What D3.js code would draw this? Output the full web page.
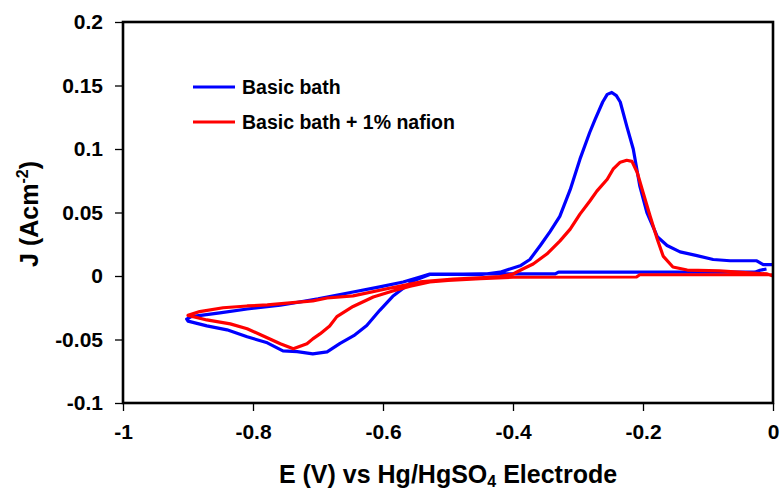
<!DOCTYPE html>
<html>
<head>
<meta charset="utf-8">
<script src="https://cdn.jsdelivr.net/npm/d3@7"></script>
<style>
  body { margin: 0; background: #fff; }
  text { font-family: "Liberation Sans", Arial, sans-serif; font-weight: bold; fill: #000; }
</style>
</head>
<body>
<svg width="781" height="494"></svg>
<script>
// Cyclic voltammograms, E (V) vs J (A/cm2)
var basicBath = [
  [-0.010, 0.0055], [-0.020, 0.0045], [-0.028, 0.0030], [-0.150, 0.0030], [-0.330, 0.0030],
  [-0.335, 0.0016], [-0.450, 0.0016], [-0.528, 0.0012],
  [-0.554, -0.0040], [-0.585, -0.0160], [-0.605, -0.0270], [-0.625, -0.0390],
  [-0.645, -0.0470], [-0.666, -0.0530],
  [-0.686, -0.0597], [-0.708, -0.0613], [-0.732, -0.0595], [-0.754, -0.0589],
  [-0.778, -0.0526], [-0.809, -0.0479], [-0.840, -0.0424], [-0.871, -0.0393],
  [-0.900, -0.0355], [-0.902, -0.0340], [-0.895, -0.0320],
  [-0.851, -0.0290], [-0.809, -0.0260], [-0.758, -0.0230], [-0.700, -0.0180],
  [-0.646, -0.0126], [-0.605, -0.0086], [-0.569, -0.0047], [-0.543, -0.0008],
  [-0.528, 0.0015], [-0.451, 0.0010],
  [-0.420, 0.0030], [-0.389, 0.0080], [-0.374, 0.0130], [-0.358, 0.0240],
  [-0.343, 0.0350], [-0.328, 0.0470], [-0.312, 0.0680], [-0.297, 0.0920],
  [-0.282, 0.1130], [-0.274, 0.1230], [-0.262, 0.1370], [-0.255, 0.1430], [-0.248, 0.1445],
  [-0.241, 0.1420], [-0.235, 0.1370], [-0.225, 0.1180], [-0.215, 0.1000], [-0.205, 0.0710],
  [-0.194, 0.0500], [-0.178, 0.0310], [-0.163, 0.0240], [-0.143, 0.0190],
  [-0.117, 0.0160], [-0.092, 0.0130], [-0.066, 0.0120], [-0.025, 0.0120],
  [-0.015, 0.0090], [0.000, 0.0090]
];

var nafionBath = [
  [0.000, 0.0010], [-0.100, 0.0010], [-0.205, 0.0010], [-0.210, -0.0008],
  [-0.400, -0.0010], [-0.450, -0.0020], [-0.500, -0.0035], [-0.528, -0.0047],
  [-0.558, -0.0080], [-0.585, -0.0118], [-0.615, -0.0165], [-0.646, -0.0240],
  [-0.671, -0.0320], [-0.682, -0.0393], [-0.697, -0.0456], [-0.708, -0.0495],
  [-0.717, -0.0534], [-0.738, -0.0573], [-0.758, -0.0534], [-0.785, -0.0470],
  [-0.809, -0.0416], [-0.835, -0.0377], [-0.871, -0.0346], [-0.900, -0.0310],
  [-0.882, -0.0280], [-0.846, -0.0250], [-0.809, -0.0236], [-0.778, -0.0228],
  [-0.743, -0.0212], [-0.708, -0.0196], [-0.686, -0.0173], [-0.646, -0.0157],
  [-0.594, -0.0100], [-0.543, -0.0047], [-0.492, -0.0025], [-0.451, -0.0015],
  [-0.420, -0.0005], [-0.400, 0.0016], [-0.385, 0.0055], [-0.369, 0.0094],
  [-0.348, 0.0173], [-0.328, 0.0275], [-0.312, 0.0369], [-0.297, 0.0487],
  [-0.282, 0.0589], [-0.271, 0.0668], [-0.255, 0.0762], [-0.246, 0.0841],
  [-0.235, 0.0896], [-0.225, 0.0911], [-0.217, 0.0903], [-0.209, 0.0817],
  [-0.200, 0.0660], [-0.189, 0.0470], [-0.178, 0.0290], [-0.169, 0.0157],
  [-0.154, 0.0071], [-0.132, 0.0047], [-0.082, 0.0040], [-0.009, 0.0016],
  [0.000, 0.0000]
];

var seriesNames = ["Basic bath", "Basic bath + 1% nafion"];
var seriesColors = ["#0000ff", "#ff0000"];

var xTicks = [-1, -0.8, -0.6, -0.4, -0.2, 0];
var xTickLabels = ["-1", "-0.8", "-0.6", "-0.4", "-0.2", "0"];
var yTicks = [0.2, 0.15, 0.1, 0.05, 0, -0.05, -0.1];
var yTickLabels = ["0.2", "0.15", "0.1", "0.05", "0", "-0.05", "-0.1"];

var svg = d3.select("svg");
var plot = {left: 123, top: 22, right: 773, bottom: 403};

var x = d3.scaleLinear().domain([-1, 0]).range([plot.left, plot.right]);
var y = d3.scaleLinear().domain([-0.1, 0.2]).range([plot.bottom, plot.top]);

// Ticks
var xAxis = svg.append("g")
  .attr("transform", "translate(0," + plot.bottom + ")")
  .call(d3.axisBottom(x).tickValues(xTicks).tickSize(8).tickPadding(13)
    .tickFormat(function(d, i) { return xTickLabels[i]; }));
var yAxis = svg.append("g")
  .attr("transform", "translate(" + plot.left + ",0)")
  .call(d3.axisLeft(y).tickValues(yTicks).tickSize(8).tickPadding(12)
    .tickFormat(function(d, i) { return yTickLabels[i]; }));

[xAxis, yAxis].forEach(function(ax) {
  ax.select(".domain").remove();
  ax.selectAll(".tick line").attr("stroke", "#000").attr("stroke-width", 1.3);
  ax.selectAll(".tick text")
    .attr("font-family", "Liberation Sans, Arial, sans-serif")
    .attr("font-size", 21)
    .attr("font-weight", "bold")
    .attr("fill", "#000");
});

// Curves
var line = d3.line()
  .x(function(d) { return x(d[0]); })
  .y(function(d) { return y(d[1]); });

svg.append("g").selectAll("path")
  .data([basicBath, nafionBath])
  .enter().append("path")
    .attr("d", line)
    .attr("fill", "none")
    .attr("stroke", function(d, i) { return seriesColors[i]; })
    .attr("stroke-width", 3.2)
    .attr("stroke-linejoin", "round");

// Frame
svg.append("rect")
  .attr("x", plot.left)
  .attr("y", plot.top)
  .attr("width", plot.right - plot.left)
  .attr("height", plot.bottom - plot.top)
  .attr("fill", "none")
  .attr("stroke", "#000")
  .attr("stroke-width", 2.6);

// Legend
var legend = svg.append("g").selectAll("g")
  .data(seriesNames)
  .enter().append("g")
    .attr("transform", function(d, i) { return "translate(193," + (87 + i * 35) + ")"; });
legend.append("line")
  .attr("x1", 0).attr("x2", 42)
  .attr("stroke", function(d, i) { return seriesColors[i]; })
  .attr("stroke-width", 3);
legend.append("text")
  .attr("x", 49)
  .attr("dy", "0.36em")
  .attr("font-size", 19.5)
  .text(function(d) { return d; });

// Axis titles
var xTitle = svg.append("text")
  .attr("x", (plot.left + plot.right) / 2)
  .attr("y", 483)
  .attr("text-anchor", "middle")
  .attr("font-size", 25);
xTitle.append("tspan").text("E (V) vs Hg/HgSO");
xTitle.append("tspan").attr("font-size", 16).attr("dy", 4).text("4");
xTitle.append("tspan").attr("dy", -4).text(" Electrode");

var yTitle = svg.append("text")
  .attr("transform", "translate(38,214) rotate(-90)")
  .attr("text-anchor", "middle")
  .attr("font-size", 25);
yTitle.append("tspan").text("J (Acm");
yTitle.append("tspan").attr("font-size", 16).attr("dy", -10).text("-2");
yTitle.append("tspan").attr("dy", 10).text(")");
</script>
</body>
</html>
